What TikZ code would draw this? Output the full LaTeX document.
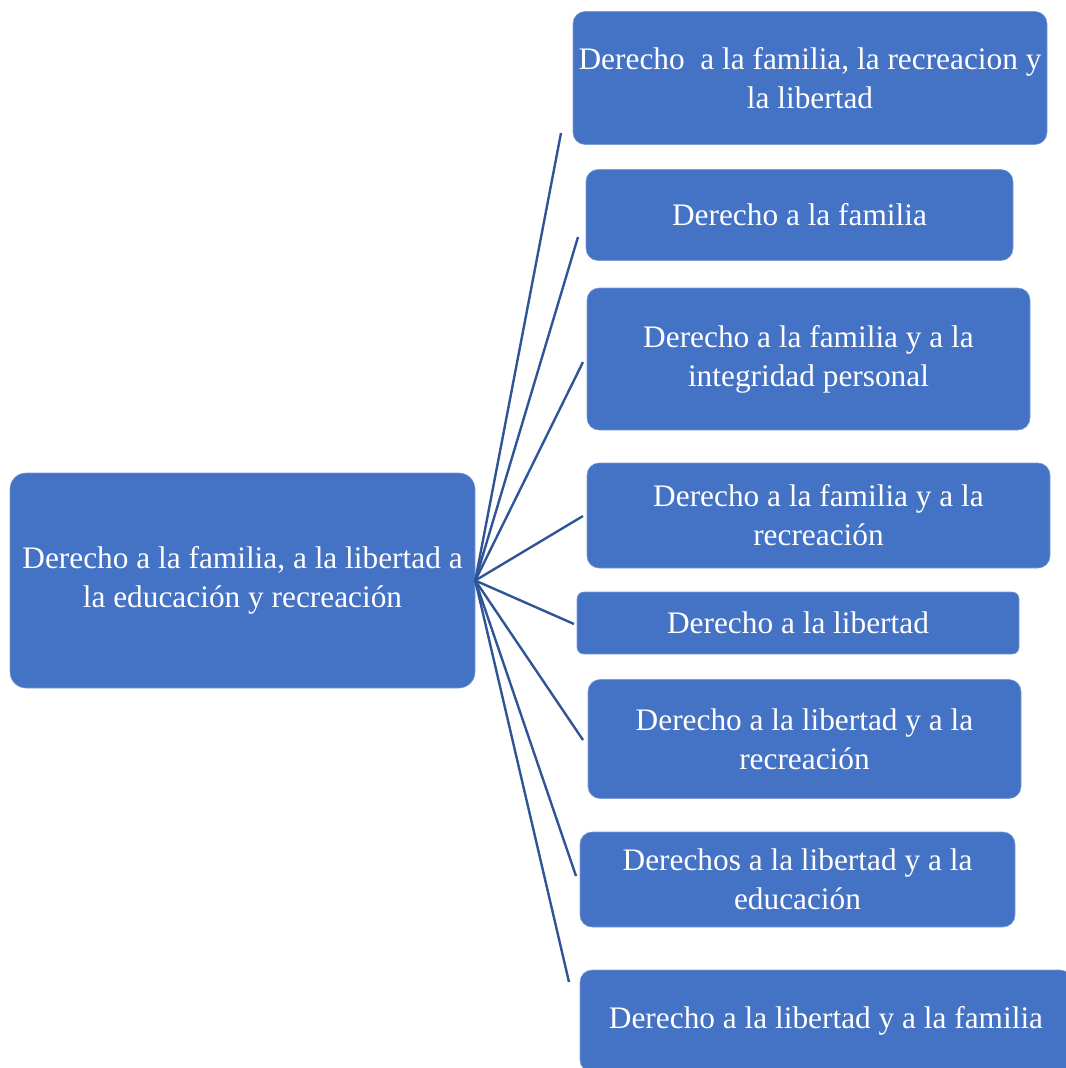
\documentclass[tikz,border=0pt]{standalone}
\usepackage{fontspec}
\setmainfont{Liberation Serif}
\usepackage{xcolor}
\usepackage{tikz}
\definecolor{boxblue}{HTML}{4472C4}
\definecolor{lineblue}{HTML}{2F5597}
\tikzset{derbox/.style={fill=boxblue, draw=boxblue!70!white, rounded corners=9pt,
  text=white, align=center, inner sep=0pt, font=\fontsize{23.5}{29.25}\selectfont},
  rama/.style={-, color=lineblue, line width=1.8pt}}

\begin{document}
\begin{tikzpicture}[x=0.75pt,y=-0.75pt]
\useasboundingbox (0,0) rectangle (1065,1068);
\node[derbox, minimum width=348.75pt, minimum height=161.25pt, rounded corners=12pt] (raiz) at (242.5,580.5) {Derecho a la familia, a la libertad a\\la educación y recreación};
\node[derbox, minimum width=355.5pt, minimum height=99.75pt] (d1) at (810,78) {Derecho\ \ a la familia, la recreacion y\\la libertad};
\node[derbox, minimum width=320.25pt, minimum height=68.25pt] (d2) at (799.5,215) {Derecho a la familia};
\node[derbox, minimum width=332.25pt, minimum height=106.5pt] (d3) at (808.5,359) {Derecho a la familia y a la\\integridad personal};
\node[derbox, minimum width=347.25pt, minimum height=78.75pt] (d4) at (818.5,515.5) {Derecho a la familia y a la\\recreación};
\node[derbox, minimum width=331.5pt, minimum height=46.5pt, rounded corners=5pt] (d5) at (798,623) {Derecho a la libertad};
\node[derbox, minimum width=324.75pt, minimum height=89.25pt] (d6) at (804.5,739) {Derecho a la libertad y a la\\recreación};
\node[derbox, minimum width=326.25pt, minimum height=71.25pt] (d7) at (797.5,879.5) {Derechos a la libertad y a la\\educación};
\node[derbox, minimum width=369pt, minimum height=76.5pt] (d8) at (826,1021) {Derecho a la libertad y a la familia};
% puntas libres de las ramas
\coordinate (p1) at (561,133);
\coordinate (p2) at (578,237);
\coordinate (p3) at (583,362);
\coordinate (p4) at (583,516);
\coordinate (p5) at (574,624);
\coordinate (p6) at (583,740);
\coordinate (p7) at (576,876);
\coordinate (p8) at (569,982);
\foreach \i in {1,...,8}
  \draw[rama] (raiz.east) -- (p\i);
\end{tikzpicture}
\end{document}
